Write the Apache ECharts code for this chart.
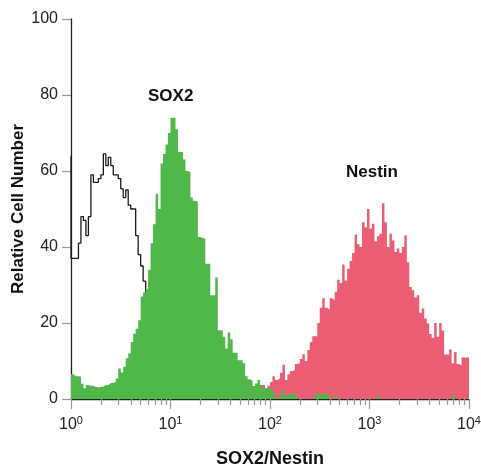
<!DOCTYPE html>
<html>
<head>
<meta charset="utf-8">
<script src="https://cdn.jsdelivr.net/npm/echarts@6/dist/echarts.min.js"></script>
<style>
html,body{margin:0;padding:0;background:#fff}
#chart{width:481px;height:469px}
</style>
</head>
<body>
<div id="chart"></div>
<script>
// histogram channels: 40 per decade, channel i covers 10^(i/40) .. 10^((i+1)/40)
var BINS_PER_DECADE = 40;

// isotype control (black outline)
var isoStart = 0;
var isoEdgeTop = 64;   // spike right at the axis
var isoCounts = [37, 37, 37, 41, 48, 47, 43, 48, 59, 57,
                 57, 58, 59, 64.5, 61.4, 63.6, 61.4, 59, 59, 58,
                 55.3, 53, 55, 51, 50, 50, 43, 38, 35, 31,
                 27, 24, 18];

// SOX2 (green)
var sox2Start = 0;
var sox2Counts = [6.5, 6, 6, 5.9, 4, 2.8, 3.7, 3.5, 3.5, 3.2,
                  3, 3.2, 3.2, 3.7, 3.7, 4.2, 4.3, 4.5, 5.4, 8,
                  7, 8.5, 10.7, 12, 15, 17.2, 18.5, 20.7, 27, 28,
                  29, 34, 41, 46, 54, 50, 62, 64.5, 67, 70,
                  74, 74, 71, 65, 65, 63, 60, 59.7, 53, 52.2,
                  52, 42.6, 42.4, 42.2, 35.6, 35.6, 27.3, 27.3, 32, 18.1,
                  18, 16.4, 13.3, 17.5, 15.7, 12.2, 12.2, 10.2, 10.2, 9.4,
                  6, 5.2, 4.8, 3.4, 4.1, 5, 3.4, 2.8, 2.4, 3.2,
                  2.5, 1.9, 0.3, 0.8, 1, 2.4, 0.8, 1.3, 1.3, 1.3,
                  1, 0, 0, 0, 0, 0, 0, 0, 1.5, 1,
                  1.5, 1, 1.5, 1, 0, 0, 1, 0, 0, 0,
                  0, 0, 0, 0, 0, 0, 0, 0, 0, 0,
                  0, 0, 0, 1, 0, 0, 0, 0, 0, 0,
                  0, 0, 0, 0, 0, 0, 0, 0, 0, 0,
                  0, 0, 0, 0, 0, 0, 0, 0, 0, 0,
                  0, 0, 0, 1, 0];

// Nestin (red)
var nestinStart = 72;
var nestinCounts = [1, 1.5, 2, 2.5,
                    3.7, 3.7, 2.8, 3.5, 4.5, 6, 5, 5.4, 6.9, 9,
                    5, 6.5, 7.4, 7.6, 9.2, 9.4, 10.5, 11.8, 10, 12.9,
                    15, 16.5, 16.5, 20, 24, 26.5, 24, 23.5, 26.5, 26,
                    28.2, 31.4, 30.5, 35.4, 31.2, 34.3, 36.3, 38.4, 43.3, 40.7,
                    40, 46.5, 45.2, 50, 44.8, 46.1, 41.5, 42.8, 43.5, 51.5,
                    46.5, 40, 43.5, 41.7, 38.7, 39.6, 38.4, 40, 43, 36,
                    29.5, 28.6, 26.7, 27.3, 22.7, 23.8, 21.2, 19.9, 17.1, 16.1,
                    20, 16.4, 20, 18, 11.7, 11.7, 13, 9.4, 12.4, 9.2,
                    8.9, 10.9, 10.9, 11];

var majorTicks = [1, 10, 100, 1000, 10000];
var minorTicks = [2, 3, 4, 5, 6, 7, 8, 9,
                  20, 30, 40, 50, 60, 70, 80, 90,
                  200, 300, 400, 500, 600, 700, 800, 900,
                  2000, 3000, 4000, 5000, 6000, 7000, 8000, 9000];

var FONT = 'Liberation Sans, Arial, sans-serif';
var GREEN = '#50b848';
var RED = '#ea5d73';

function toSteps(start, counts) {
    var pts = [];
    for (var i = 0; i < counts.length; i++) {
        pts.push([Math.pow(10, (start + i) / BINS_PER_DECADE), counts[i]]);
    }
    pts.push([Math.pow(10, (start + counts.length) / BINS_PER_DECADE), counts[counts.length - 1]]);
    return pts;
}

var isoData = toSteps(isoStart, isoCounts);
isoData.unshift([1, isoEdgeTop]);

var myChart = echarts.init(document.getElementById('chart'), null, {renderer: 'canvas'});

var option = {
    animation: false,
    backgroundColor: '#fff',
    grid: {left: 71, right: 12, top: 19, bottom: 70, containLabel: false, outerBoundsMode: 'none'},
    xAxis: [
        {
            type: 'log',
            logBase: 10,
            min: 1,
            max: 10000,
            name: 'SOX2/Nestin',
            nameLocation: 'middle',
            nameGap: 51,
            nameTextStyle: {fontFamily: FONT, fontWeight: 'bold', fontSize: 18, color: '#111'},
            axisLine: {lineStyle: {color: '#222', width: 1.3}},
            axisTick: {customValues: majorTicks, length: 10, lineStyle: {color: '#999', width: 1.2}},
            axisLabel: {
                customValues: majorTicks,
                margin: 16,
                formatter: function (v) {
                    return '{b|10}{s|' + Math.round(Math.log10(v)) + '}';
                },
                rich: {
                    b: {fontFamily: FONT, fontSize: 16, color: '#222'},
                    s: {fontFamily: FONT, fontSize: 11, color: '#222', padding: [0, 0, 9, 0]}
                }
            },
            splitLine: {show: false},
            minorTick: {show: false}
        },
        {
            type: 'log',
            logBase: 10,
            min: 1,
            max: 10000,
            position: 'bottom',
            axisLine: {show: false},
            axisTick: {customValues: minorTicks, length: 6, lineStyle: {color: '#999', width: 1.2}},
            axisLabel: {show: false},
            splitLine: {show: false}
        }
    ],
    yAxis: {
        type: 'value',
        min: 0,
        max: 100,
        interval: 20,
        name: 'Relative Cell Number',
        nameLocation: 'middle',
        nameGap: 44,
        nameMoveOverlap: false,
        nameTextStyle: {fontFamily: FONT, fontWeight: 'bold', fontSize: 17, color: '#111'},
        axisLine: {show: true, lineStyle: {color: '#222', width: 1.3}},
        axisTick: {show: true, length: 9, lineStyle: {color: '#999', width: 1.2}},
        axisLabel: {margin: 13, fontFamily: FONT, fontSize: 16, color: '#222'},
        splitLine: {show: false}
    },
    series: [
        {
            name: 'Isotype',
            type: 'line',
            step: 'end',
            symbol: 'none',
            z: 2,
            data: isoData,
            lineStyle: {color: '#1a1a1a', width: 1.3}
        },
        {
            name: 'Nestin',
            type: 'line',
            step: 'end',
            symbol: 'none',
            z: 3,
            data: toSteps(nestinStart, nestinCounts),
            lineStyle: {width: 0},
            areaStyle: {color: RED, opacity: 1}
        },
        {
            name: 'SOX2',
            type: 'line',
            step: 'end',
            symbol: 'none',
            z: 4,
            data: toSteps(sox2Start, sox2Counts),
            lineStyle: {width: 0},
            areaStyle: {color: GREEN, opacity: 1}
        }
    ],
    graphic: [
        {type: 'text', left: 148, top: 88, style: {text: 'SOX2', font: 'bold 17px ' + FONT, fill: '#111'}},
        {type: 'text', left: 346, top: 164, style: {text: 'Nestin', font: 'bold 17px ' + FONT, fill: '#111'}}
    ]
};

myChart.setOption(option);
</script>
</body>
</html>
